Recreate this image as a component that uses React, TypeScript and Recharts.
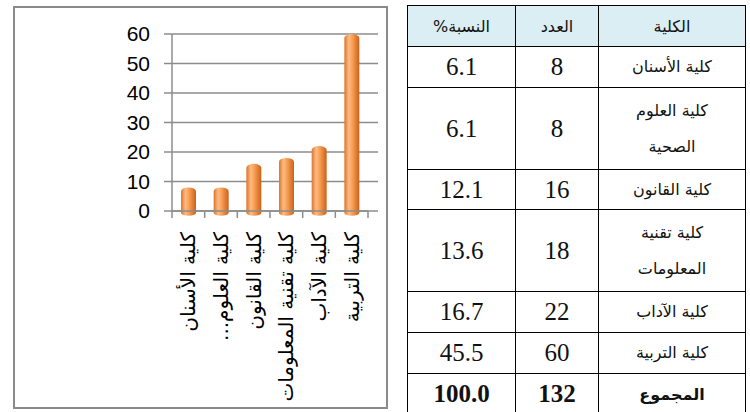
import React from 'react';
import { BarChart, Bar, XAxis, YAxis, CartesianGrid } from 'recharts';

// ---- data ----
const colleges = [
  'كلية الأسنان',
  'كلية العلوم الصحية',
  'كلية القانون',
  'كلية تقنية المعلومات',
  'كلية الآداب',
  'كلية التربية',
];
const axisLabels = [
  'كلية الأسنان',
  'كلية العلوم...\u200F',
  'كلية القانون',
  'كلية تقنية المعلومات',
  'كلية الآداب',
  'كلية التربية',
];
const counts = [8, 8, 16, 18, 22, 60];
const percents = ['6.1', '6.1', '12.1', '13.6', '16.7', '45.5'];
const yTicks = [0, 10, 20, 30, 40, 50, 60];
const headerCollege = 'الكلية';
const headerCount = 'العدد';
const headerPercent = 'النسبة%';
const totalLabel = 'المجموع';
const totalCount = '132';
const totalPercent = '100.0';

const data = axisLabels.map((name, i) => ({ name, value: counts[i] }));

// ---- layout ----
const PLOT_LEFT = 172;
const PLOT_RIGHT = 368;
const PLOT_TOP = 34;
const PLOT_BOTTOM = 211;
const BAND = (PLOT_RIGHT - PLOT_LEFT) / data.length;
const GRID = '#8c8c8c';

const SERIF = "'Liberation Serif', 'DejaVu Serif', serif";
const ARABIC = "'DejaVu Sans', sans-serif";

const XTick = (props: any) => {
  const { x, y, payload, index } = props;
  const last = index === data.length - 1;
  return (
    <g>
      <line x1={x - BAND / 2} x2={x - BAND / 2} y1={y} y2={y + 7} stroke={GRID} strokeWidth={1.5} />
      {last && (
        <line x1={x + BAND / 2} x2={x + BAND / 2} y1={y} y2={y + 7} stroke={GRID} strokeWidth={1.5} />
      )}
      <text
        x={x}
        y={y + 21}
        transform={`rotate(-90, ${x}, ${y + 21})`}
        textAnchor="end"
        dominantBaseline="central"
        fontFamily={ARABIC}
        fontSize={20}
        fill="#000"
      >
        {payload.value}
      </text>
    </g>
  );
};

const GridLine = (p: any) => (
  <line
    key={p.key ?? `g-${p.index}`}
    x1={p.x1}
    y1={p.y1}
    x2={p.x2 + 10}
    y2={p.y2}
    stroke={GRID}
    strokeWidth={1.5}
  />
);

const Cylinder = (props: any) => {
  const { x, y, width, height } = props;
  if (!height || height <= 0) return null;
  const rx = width / 2;
  const ry = Math.min(4, height / 2);
  const yb = y + height + 2;
  const d = `M${x},${yb} L${x},${y + ry} A${rx},${ry} 0 0 1 ${x + width},${y + ry} L${x + width},${yb} A${rx},${ry * 0.7} 0 0 1 ${x},${yb} Z`;
  return <path d={d} fill="url(#cylGrad)" />;
};

const cellBase: React.CSSProperties = {
  border: '1px solid #000',
  padding: 0,
  textAlign: 'center',
  verticalAlign: 'middle',
};
const cellAr: React.CSSProperties = { ...cellBase, fontSize: 16, fontFamily: ARABIC, color: '#111' };
const cellNum: React.CSSProperties = { ...cellBase, fontSize: 25, fontFamily: SERIF, color: '#111' };

export default function App() {
  return (
    <div style={{ position: 'absolute', left: 0, top: 0, width: 750, height: 412, overflow: 'hidden', background: '#fff' }}>
      <div
        style={{
          position: 'absolute',
          left: 13,
          top: 6,
          width: 375,
          height: 403,
          border: '2px solid #8a8a8a',
          boxSizing: 'border-box',
        }}
      />
      <div style={{ position: 'absolute', left: 0, top: 0 }}>
        <BarChart
          width={750}
          height={412}
          data={data}
          margin={{ top: PLOT_TOP, right: 750 - PLOT_RIGHT, left: PLOT_LEFT - 60, bottom: 412 - PLOT_BOTTOM - 180 }}
          barCategoryGap={0}
        >
          <defs>
            <linearGradient id="cylGrad" x1="0" y1="0" x2="1" y2="0">
              <stop offset="0" stopColor="#dc7428" />
              <stop offset="0.3" stopColor="#fdbb85" />
              <stop offset="0.55" stopColor="#f99c52" />
              <stop offset="1" stopColor="#c8621b" />
            </linearGradient>
          </defs>
          <CartesianGrid vertical={false} horizontal={GridLine} stroke={GRID} strokeWidth={1.5} />
          <XAxis
            dataKey="name"
            interval={0}
            height={180}
            tickSize={0}
            tickMargin={0}
            tickLine={false}
            axisLine={{ stroke: GRID, strokeWidth: 1.5 }}
            tick={<XTick />}
          />
          <YAxis
            width={60}
            domain={[0, 60]}
            ticks={yTicks}
            interval={0}
            tickSize={8}
            tickMargin={14}
            axisLine={{ stroke: GRID, strokeWidth: 1.5 }}
            tickLine={{ stroke: GRID, strokeWidth: 1.5 }}
            tick={{ fontSize: 21, fill: '#000', fontFamily: "'Liberation Sans', Arial, sans-serif" }}
          />
          <Bar dataKey="value" barSize={15} shape={<Cylinder />} isAnimationActive={false} />
        </BarChart>
      </div>
      <table
        dir="rtl"
        style={{
          position: 'absolute',
          left: 407,
          top: 5,
          width: 339,
          borderCollapse: 'collapse',
          tableLayout: 'fixed',
          fontFamily: SERIF,
          fontSize: 24,
          color: '#111',
        }}
      >
        <colgroup>
          <col style={{ width: 147 }} />
          <col style={{ width: 83 }} />
          <col style={{ width: 108 }} />
        </colgroup>
        <tbody>
          <tr style={{ height: 41, background: '#DAEEF3' }}>
            <td style={cellAr}>{headerCollege}</td>
            <td style={cellAr}>{headerCount}</td>
            <td style={cellAr}>{headerPercent}</td>
          </tr>
          {colleges.map((c, i) => (
            <tr key={c} style={{ height: c.length > 14 ? 82 : i === 2 ? 40 : 41 }}>
              <td style={cellAr}>
                <div style={{ width: 96, margin: '0 auto', lineHeight: '36px' }}>{c}</div>
              </td>
              <td style={cellNum}>{counts[i]}</td>
              <td style={cellNum}>{percents[i]}</td>
            </tr>
          ))}
          <tr style={{ height: 41 }}>
            <td style={{ ...cellAr, fontWeight: 'bold' }}>{totalLabel}</td>
            <td style={{ ...cellNum, fontWeight: 'bold' }}>{totalCount}</td>
            <td style={{ ...cellNum, fontWeight: 'bold' }}>{totalPercent}</td>
          </tr>
        </tbody>
      </table>
    </div>
  );
}
